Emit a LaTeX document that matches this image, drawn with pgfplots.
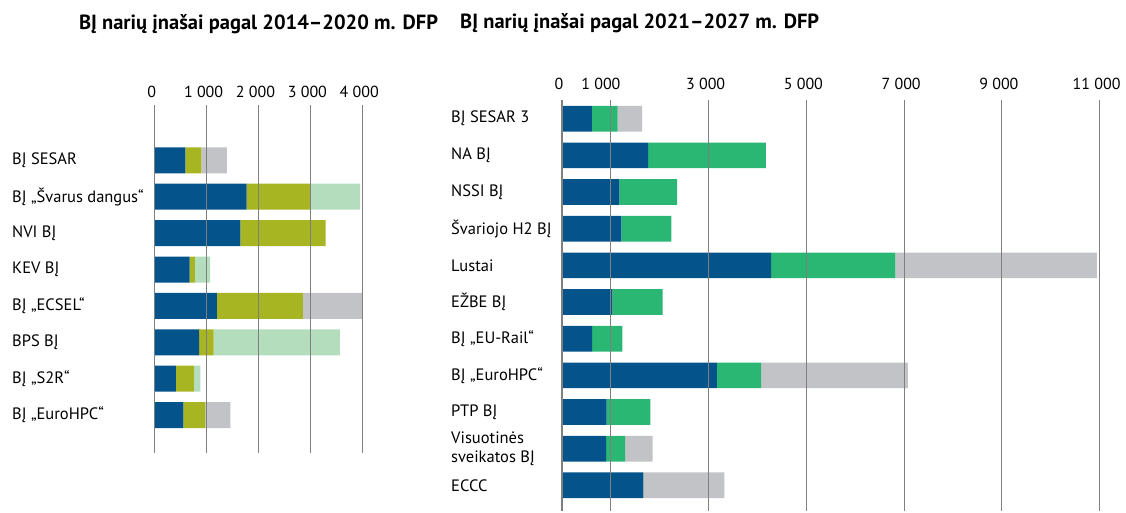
\documentclass[border=0pt]{standalone}
\usepackage{fontspec}
\setmainfont{PT Sans}
\usepackage{pgfplots}
\pgfplotsset{compat=1.18}

\definecolor{cblue}{HTML}{04538A}
\definecolor{colive}{HTML}{A8B523}
\definecolor{clgreen}{HTML}{B3DDBD}
\definecolor{cgray}{HTML}{C2C3C6}
\definecolor{cgreen}{HTML}{2AB673}
\definecolor{cgrid}{HTML}{7F7F7F}

\pgfplotsset{
  panel/.style={
    scale only axis,
    xbar stacked,
    y dir=reverse,
    scaled x ticks=false,
    axis line style={draw=none},
    major tick style={draw=none},
    xticklabel pos=upper,
    xmajorgrids,
    major grid style={cgrid, line width=1.1pt},
    axis on top,
    xticklabel style={font=\fontsize{16}{18}\selectfont, xshift=-3pt},
    yticklabel style={font=\fontsize{16.5}{19}\selectfont, anchor=west, align=left, inner sep=0pt},
    every axis plot/.append style={draw=none},
  }
}

\begin{document}
\begin{tikzpicture}
\useasboundingbox (0,0) rectangle (1126pt,-513pt);

% 2014-2020
\begin{axis}[panel,
    at={(154.7pt,-105pt)}, anchor=north west,
    width=207.6pt, height=348pt,
    xmin=0, xmax=4000, ymin=-1.52, ymax=8.04,
    bar width=26pt,
    xtick={0,1000,2000,3000,4000},
    xticklabels={0,1 000,2 000,3 000,4 000},
    xticklabel style={yshift=4pt},
    ytick={0,...,7},
    yticklabels={BĮ SESAR,BĮ „Švarus dangus“,NVI BĮ,KEV BĮ,BĮ „ECSEL“,BPS BĮ,BĮ „S2R“,BĮ „EuroHPC“},
    yticklabel style={xshift=-142.7pt},
]
\addplot[fill=cblue] coordinates {(590,0) (1773,1) (1649,2) (674,3) (1200,4) (854,5) (410,6) (551,7)};
\addplot[fill=colive] coordinates {(308,0) (1233,1) (1646,2) (102,3) (1657,4) (283,5) (347,6) (424,7)};
\addplot[fill=clgreen] coordinates {(0,0) (950,1) (0,2) (290,3) (0,4) (2433,5) (122,6) (0,7)};
\addplot[fill=cgray] coordinates {(495,0) (0,1) (0,2) (0,3) (1151,4) (0,5) (0,6) (482,7)};
\end{axis}

% 2021-2027
\begin{axis}[panel,
    at={(562pt,-100pt)}, anchor=north west,
    width=537.6pt, height=411pt,
    xmin=0, xmax=11000, ymin=-0.51, ymax=10.70,
    bar width=25.7pt,
    xtick={0,1000,3000,5000,7000,9000,11000},
    xticklabels={0,\hspace*{-14pt}1 000,3 000,5 000,7 000,9 000,11 000},
    xticklabel style={yshift=7pt},
    ytick={0,...,10},
    yticklabels={BĮ SESAR 3,NA BĮ,NSSI BĮ,Švariojo H2 BĮ,Lustai,EŽBE BĮ,BĮ „EU-Rail“,BĮ „EuroHPC“,PTP BĮ,Visuotinės\\sveikatos BĮ,ECCC},
    yticklabel style={xshift=-111pt},
]
\addplot[fill=cblue] coordinates {(609,0) (1763,1) (1172,2) (1217,3) (4278,4) (1029,5) (618,6) (3168,7) (913,8) (904,9) (1665,10)};
\addplot[fill=cgreen] coordinates {(528,0) (2408,1) (1182,2) (1021,3) (2542,4) (1030,5) (617,6) (904,7) (895,8) (385,9) (0,10)};
\addplot[fill=cgray] coordinates {(501,0) (0,1) (0,2) (0,3) (4126,4) (0,5) (0,6) (3007,7) (0,8) (564,9) (1655,10)};
\end{axis}

\node[font=\bfseries\fontsize{20.5}{23}\selectfont, anchor=center] at (258.5pt,-24pt) {BĮ narių įnašai pagal 2014–2020 m. DFP};
\node[font=\bfseries\fontsize{20.5}{23}\selectfont, anchor=west, inner sep=0pt] at (460pt,-23pt) {BĮ narių įnašai pagal 2021–2027 m. DFP};
\end{tikzpicture}
\end{document}
